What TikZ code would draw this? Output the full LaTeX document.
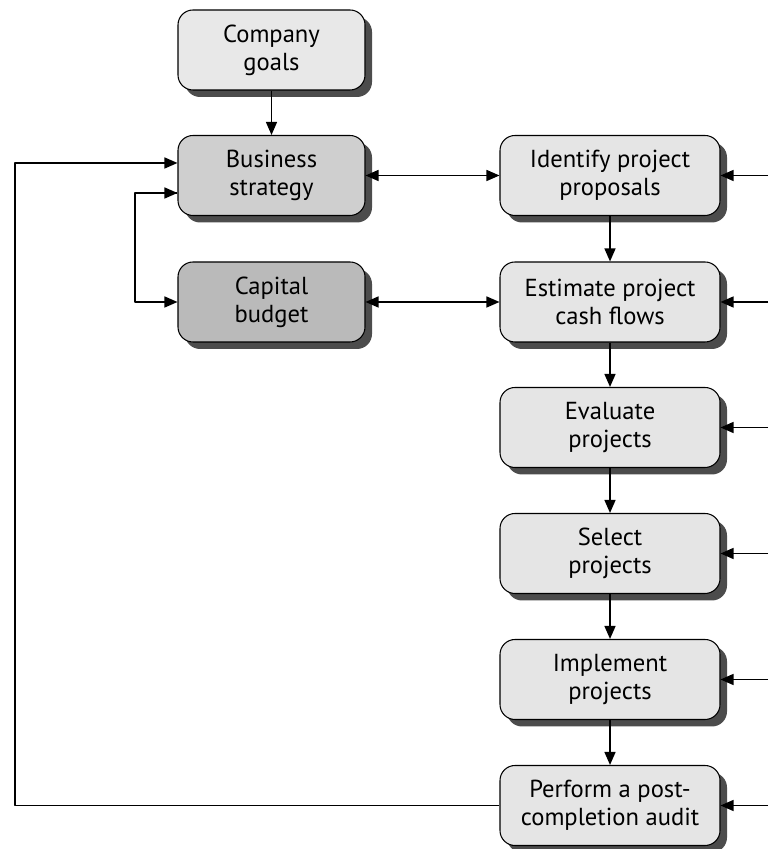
\documentclass[tikz,border=0pt]{standalone}
\usepackage{fontspec}
\setmainfont{PT Sans}
\usetikzlibrary{arrows.meta,shadows}

\begin{document}
\begin{tikzpicture}[x=1cm,y=1cm,line join=round,
    font=\fontsize{14}{16}\selectfont,
    fase/.style={draw,line width=0.6pt,rounded corners=0.3cm,
                 align=center,inner sep=0pt,fill=black!10,
                 minimum width=4.4cm,minimum height=1.6cm,
                 drop shadow={shadow xshift=0.14cm,shadow yshift=-0.14cm,
                              fill=black!70,opacity=1}},
    sinistra/.style={fase,minimum width=3.74cm},
    punta/.tip={Triangle[length=0.26cm,width=0.22cm]},
    freccia/.style={line width=0.8pt,-punta},
    doppia/.style={line width=0.8pt,punta-punta}]

  \useasboundingbox (0,0) rectangle (15.36,16.98);

  % ---- colonna di sinistra: obiettivi e strategia ------------------------
  \node[sinistra,fill=black!9]  (goals)    at (5.43,15.98) {Company\\goals};
  \node[sinistra,fill=black!19] (strategy) at (5.43,13.47) {Business\\strategy};
  \node[sinistra,fill=black!27] (budget)   at (5.43,10.94) {Capital\\budget};

  % ---- colonna di destra: le fasi del processo ---------------------------
  \node[fase] (identify)  at (12.2,13.47) {Identify project\\proposals};
  \node[fase] (estimate)  at (12.2,10.94) {Estimate project\\cash flows};
  \node[fase] (evaluate)  at (12.2, 8.43) {Evaluate\\projects};
  \node[fase] (select)    at (12.2, 5.91) {Select\\projects};
  \node[fase] (implement) at (12.2, 3.39) {Implement\\projects};
  \node[fase] (audit)     at (12.2, 0.87) {Perform a post-\\completion audit};

  % ---- frecce verticali --------------------------------------------------
  \draw[freccia] (goals) -- (strategy);
  \draw[freccia] (identify) -- (estimate);
  \draw[freccia] (estimate) -- (evaluate);
  \draw[freccia] (evaluate) -- (select);
  \draw[freccia] (select) -- (implement);
  \draw[freccia] (implement) -- (audit);

  % ---- scambi fra le due colonne ----------------------------------------
  \draw[doppia] (strategy) -- (identify);
  \draw[doppia] (budget) -- (estimate);

  % strategia <-> budget
  \coordinate (ansa) at (2.7,13.12);
  \draw[freccia] ([yshift=-0.35cm]strategy.west) -- (ansa) |- (budget.west);
  \draw[freccia] (ansa) -- ([yshift=-0.35cm]strategy.west);

  % ---- ritorno dall'audit alla strategia ---------------------------------
  \coordinate (giro) at (0.3,0.87);
  \draw[freccia] (audit.west) -- (giro) |- ([yshift=0.25cm]strategy.west);

  % ---- ingressi dal bordo destro -----------------------------------------
  \foreach \f in {identify,estimate,evaluate,select,implement,audit}
    \draw[freccia] (15.36,0 |- \f.east) -- (\f.east);

\end{tikzpicture}
\end{document}
